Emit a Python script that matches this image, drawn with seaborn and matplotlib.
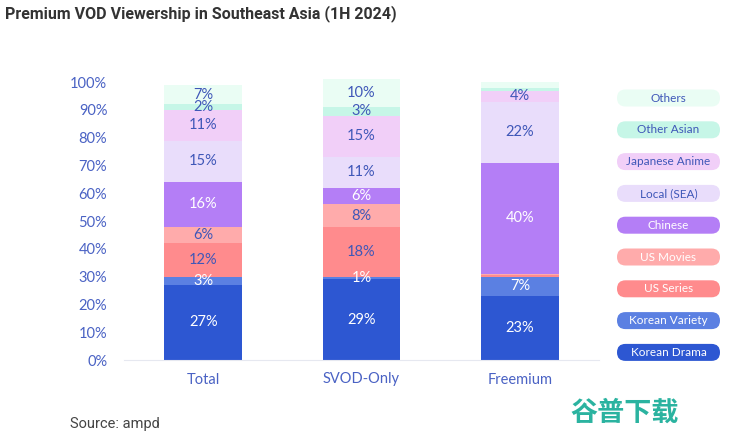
import matplotlib
matplotlib.use("Agg")
import numpy as np
import pandas as pd
import matplotlib.pyplot as plt
import seaborn as sns
from matplotlib.patches import FancyBboxPatch

# ---------------------------------------------------
# DATA (share of viewership, %)
# ---------------------------------------------------

groups = ["Total", "SVOD-Only", "Freemium"]

genres = ["Korean Drama", "Korean Variety", "US Series", "US Movies", "Chinese",
          "Local (SEA)", "Japanese Anime", "Other Asian", "Others"]

korean_drama = [27, 29, 23]
korean_variety = [3, 1, 7]
us_series = [12, 18, 0.5]
us_movies = [6, 8, 0.5]
chinese = [16, 6, 40]
local_sea = [15, 11, 22]
japanese_anime = [11, 15, 4]
other_asian = [2, 3, 1]
others = [7, 10, 2]

# which segments carry a value label
show_label = [
    [True, True, True],
    [True, True, True],
    [True, True, False],
    [True, True, False],
    [True, True, True],
    [True, True, True],
    [True, True, True],
    [True, True, False],
    [True, True, False],
]

yticks = [0, 10, 20, 30, 40, 50, 60, 70, 80, 90, 100]

# ---------------------------------------------------
# THEME
# ---------------------------------------------------

COLORS = ["#2d57d2", "#5b80e2", "#ff8b8d", "#ffabab", "#b47ef6",
          "#e9ddfb", "#f1cff8", "#c6f6e7", "#eafdf4"]
WHITE_TEXT = [True, True, False, False, True, False, False, False, False]
LEGEND_WHITE = [True, True, True, True, True, False, False, False, False]
TEXT_BLUE = "#3f57b8"
TICK_BLUE = "#4a62c4"

sns.set_style("white")
plt.rcParams["font.family"] = ["Lato", "DejaVu Sans"]

fig = plt.figure(figsize=(7.4, 4.37), dpi=100)
ax = fig.add_axes([124 / 740, 77 / 437, 475 / 740, 282 / 437])

values = [korean_drama, korean_variety, us_series, us_movies, chinese,
          local_sea, japanese_anime, other_asian, others]

bottom = np.zeros(len(groups))
for gi, (genre, vals) in enumerate(zip(genres, values)):
    df = pd.DataFrame({"group": groups, "share": vals})
    sns.barplot(data=df, x="group", y="share", bottom=bottom, color=COLORS[gi],
                width=0.49, errorbar=None, saturation=1, linewidth=0, ax=ax)
    for i, v in enumerate(vals):
        if show_label[gi][i]:
            ax.text(i, bottom[i] + v / 2, f"{v:g}%", ha="center", va="center",
                    fontsize=10.5, color="white" if WHITE_TEXT[gi] else TEXT_BLUE)
    bottom = bottom + np.array(vals)

ax.set_xlim(-0.5, 2.5)
ax.set_ylim(0, 101.5)
ax.set_yticks(yticks)
ax.set_yticklabels([f"{t}%" for t in yticks])
ax.set_xlabel("")
ax.set_ylabel("")
ax.tick_params(axis="y", length=0, pad=12, labelsize=10.5, labelcolor=TICK_BLUE)
ax.tick_params(axis="x", length=0, pad=9, labelsize=10.5, labelcolor=TICK_BLUE)
ax.set_xticks([0.5, 1.5], minor=True)
ax.tick_params(axis="x", which="minor", length=4, color="#e6e8f0", direction="out")
for s in ["left", "right", "top"]:
    ax.spines[s].set_visible(False)
ax.spines["bottom"].set_color("#e6e8f0")
ax.grid(False)

# ---------------------------------------------------
# LEGEND (pill shaped tags)
# ---------------------------------------------------

leg = fig.add_axes([605 / 740, 1 - 370 / 437, 130 / 740, 290 / 437])
leg.set_xlim(605, 735)
leg.set_ylim(370, 80)
leg.axis("off")
for k in range(len(genres)):
    gi = len(genres) - 1 - k
    yc = 98 + k * 31.8
    leg.add_patch(FancyBboxPatch((617, yc - 8.5), 103, 17,
                                 boxstyle="round,pad=0,rounding_size=8.5",
                                 facecolor=COLORS[gi], edgecolor="none"))
    leg.text(668.5, yc, genres[gi], ha="center", va="center", fontsize=8.5,
             color="white" if LEGEND_WHITE[gi] else TEXT_BLUE)

# ---------------------------------------------------
# TITLE / SOURCE
# ---------------------------------------------------

fig.text(5 / 740, 1 - 14 / 437, "Premium VOD Viewership in Southeast Asia (1H 2024)",
         ha="left", va="center", fontsize=11.5, fontweight="bold", color="#333333",
         family=["Roboto", "DejaVu Sans"])
fig.text(70 / 740, 1 - 424 / 437, "Source: ampd", ha="left", va="center",
         fontsize=10.5, color="#444444", family=["Roboto", "DejaVu Sans"])
fig.text(625 / 740, 1 - 413 / 437, "谷普下载", ha="center", va="center",
         fontsize=19.5, fontweight="bold", color="#2bb3a0",
         family=["Noto Sans CJK SC", "DejaVu Sans"])

fig.savefig("out.png", dpi=100)
